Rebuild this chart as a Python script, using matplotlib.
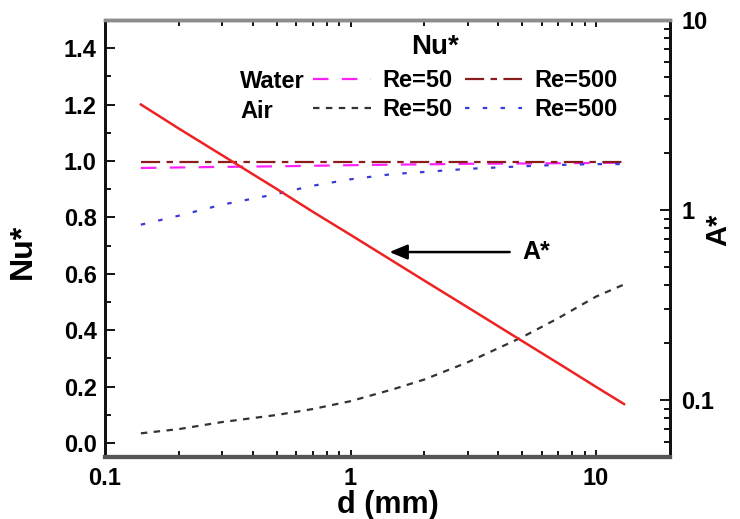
import matplotlib
matplotlib.use("Agg")
import matplotlib.pyplot as plt
from matplotlib.lines import Line2D
from matplotlib.ticker import MultipleLocator, LogLocator, NullFormatter, FixedLocator, FixedFormatter

plt.rcParams['font.family'] = ['Liberation Sans', 'DejaVu Sans']
plt.rcParams['font.weight'] = 'bold'

# ---- data ----
d_mm = [0.14, 0.2, 0.3, 0.5, 0.7, 1, 1.5, 2, 3, 5, 7, 10, 13]
nu_water_re50 = [0.975, 0.977, 0.979, 0.981, 0.983, 0.985, 0.987, 0.988, 0.990, 0.991, 0.992, 0.993, 0.994]
nu_water_re500 = [0.997, 0.997, 0.997, 0.997, 0.997, 0.997, 0.997, 0.997, 0.997, 0.997, 0.997, 0.997, 0.997]
nu_air_re50 = [0.034, 0.049, 0.074, 0.099, 0.120, 0.148, 0.191, 0.225, 0.286, 0.375, 0.442, 0.519, 0.562]
nu_air_re500 = [0.774, 0.806, 0.845, 0.883, 0.912, 0.935, 0.954, 0.961, 0.972, 0.981, 0.986, 0.989, 0.989]
a_star = [3.59, 2.68, 1.94, 1.29, 0.98, 0.739, 0.534, 0.424, 0.307, 0.204, 0.156, 0.117, 0.095]

x_ticks = [0.1, 1, 10]
x_tick_labels = ['0.1', '1', '10']
right_ticks = [0.1, 1, 10]
right_tick_labels = ['0.1', '1', '10']

W, H = 740, 519
fig = plt.figure(figsize=(W / 100, H / 100), dpi=100)
ax = fig.add_axes([105 / W, 1 - 457 / H, (670 - 105) / W, (457 - 20) / H])
ax2 = ax.twinx()

lw = 1.6
ax.plot(d_mm, nu_water_re50, color='#ff22ff', lw=lw, dashes=(7, 6))
ax.plot(d_mm, nu_water_re500, color='#8b1c1c', lw=lw, dashes=(8.6, 2.9, 2.9, 2.9))
ax.plot(d_mm, nu_air_re50, color='#333333', lw=lw, dashes=(2.9, 2.9))
ax.plot(d_mm, nu_air_re500, color='#3a3ad8', lw=lw, dashes=(2, 6))
ax2.plot(d_mm, a_star, color='#ee2222', lw=1.8)

ax.set_xscale('log')
ax.set_xlim(0.1, 20)
ax.set_ylim(-0.05, 1.5)
ax2.set_yscale('log')
ax2.set_ylim(0.05, 10)

# ticks
ax.xaxis.set_major_locator(FixedLocator(x_ticks))
ax.xaxis.set_major_formatter(FixedFormatter(x_tick_labels))
ax.xaxis.set_minor_locator(LogLocator(base=10, subs=range(2, 10), numticks=20))
ax.xaxis.set_minor_formatter(NullFormatter())
ax.yaxis.set_major_locator(MultipleLocator(0.2))
ax.yaxis.set_minor_locator(MultipleLocator(0.1))
ax.yaxis.set_major_formatter(matplotlib.ticker.FormatStrFormatter('%.1f'))
ax2.yaxis.set_major_locator(FixedLocator(right_ticks))
ax2.yaxis.set_major_formatter(FixedFormatter(right_tick_labels))
ax2.yaxis.set_minor_locator(LogLocator(base=10, subs=range(2, 10), numticks=20))
ax2.yaxis.set_minor_formatter(NullFormatter())

ax.tick_params(axis='x', which='both', direction='in', top=True, width=1.3, labelsize=17, pad=7)
ax.tick_params(axis='x', which='major', length=5)
ax.tick_params(axis='x', which='minor', length=4)
ax.tick_params(axis='y', which='both', direction='in', width=1.3, labelsize=17, pad=6)
ax.tick_params(axis='y', which='major', length=7)
ax.tick_params(axis='y', which='minor', length=4)
ax2.tick_params(axis='y', which='both', direction='in', width=1.3, labelsize=17, pad=8)
ax2.tick_params(axis='y', which='major', length=7)
ax2.tick_params(axis='y', which='minor', length=4)

for a in (ax, ax2):
    a.spines['left'].set_linewidth(2)
    a.spines['right'].set_linewidth(2)
    a.spines['left'].set_color('#111111')
    a.spines['right'].set_color('#111111')
    a.spines['top'].set_color('#8c8c8c')
    a.spines['top'].set_linewidth(2.5)
    a.spines['bottom'].set_color('#555555')
    a.spines['bottom'].set_linewidth(3)

ax.set_xlabel('d (mm)', fontsize=22, fontweight='bold', labelpad=0)
ax.set_ylabel('Nu*', fontsize=23, fontweight='bold')
ax.yaxis.set_label_coords(-0.118, 0.47)
ax2.set_ylabel('A*', fontsize=21, fontweight='bold')
ax2.yaxis.set_label_coords(1.06, 0.52)

# legend
handles = [
    Line2D([], [], color='#ff22ff', lw=lw, dashes=(7, 6)),
    Line2D([], [], color='#333333', lw=lw, dashes=(2.9, 2.9)),
    Line2D([], [], color='#8b1c1c', lw=lw, dashes=(8.6, 2.9, 2.9, 2.9)),
    Line2D([], [], color='#3a3ad8', lw=lw, dashes=(2, 6)),
]
labels = ['Re=50', 'Re=50', 'Re=500', 'Re=500']
leg = ax.legend(handles, labels, ncol=2, frameon=False, loc='upper left',
                bbox_to_anchor=(313 / W, 1 - 69 / H), bbox_transform=fig.transFigure,
                borderaxespad=0, borderpad=0, handlelength=2.45, handletextpad=0.5,
                columnspacing=0.5, labelspacing=0.25, prop={'size': 17, 'weight': 'bold'})
fig.text(435 / W, 1 - 47 / H, 'Nu*', fontsize=20, fontweight='bold', ha='center', va='center')
fig.text(240 / W, 1 - 81 / H, 'Water', fontsize=17, fontweight='bold', ha='left', va='center')
fig.text(240 / W, 1 - 111 / H, 'Air', fontsize=17, fontweight='bold', ha='left', va='center')

ax2.annotate('A*', xy=(1.44, 0.60), xytext=(5.0, 0.60), fontsize=18, fontweight='bold',
             ha='left', va='center',
             arrowprops=dict(arrowstyle='-|>,head_length=0.6,head_width=0.25', color='black',
                             lw=1.8, shrinkA=7, shrinkB=0))

fig.savefig('out.png', dpi=100)
